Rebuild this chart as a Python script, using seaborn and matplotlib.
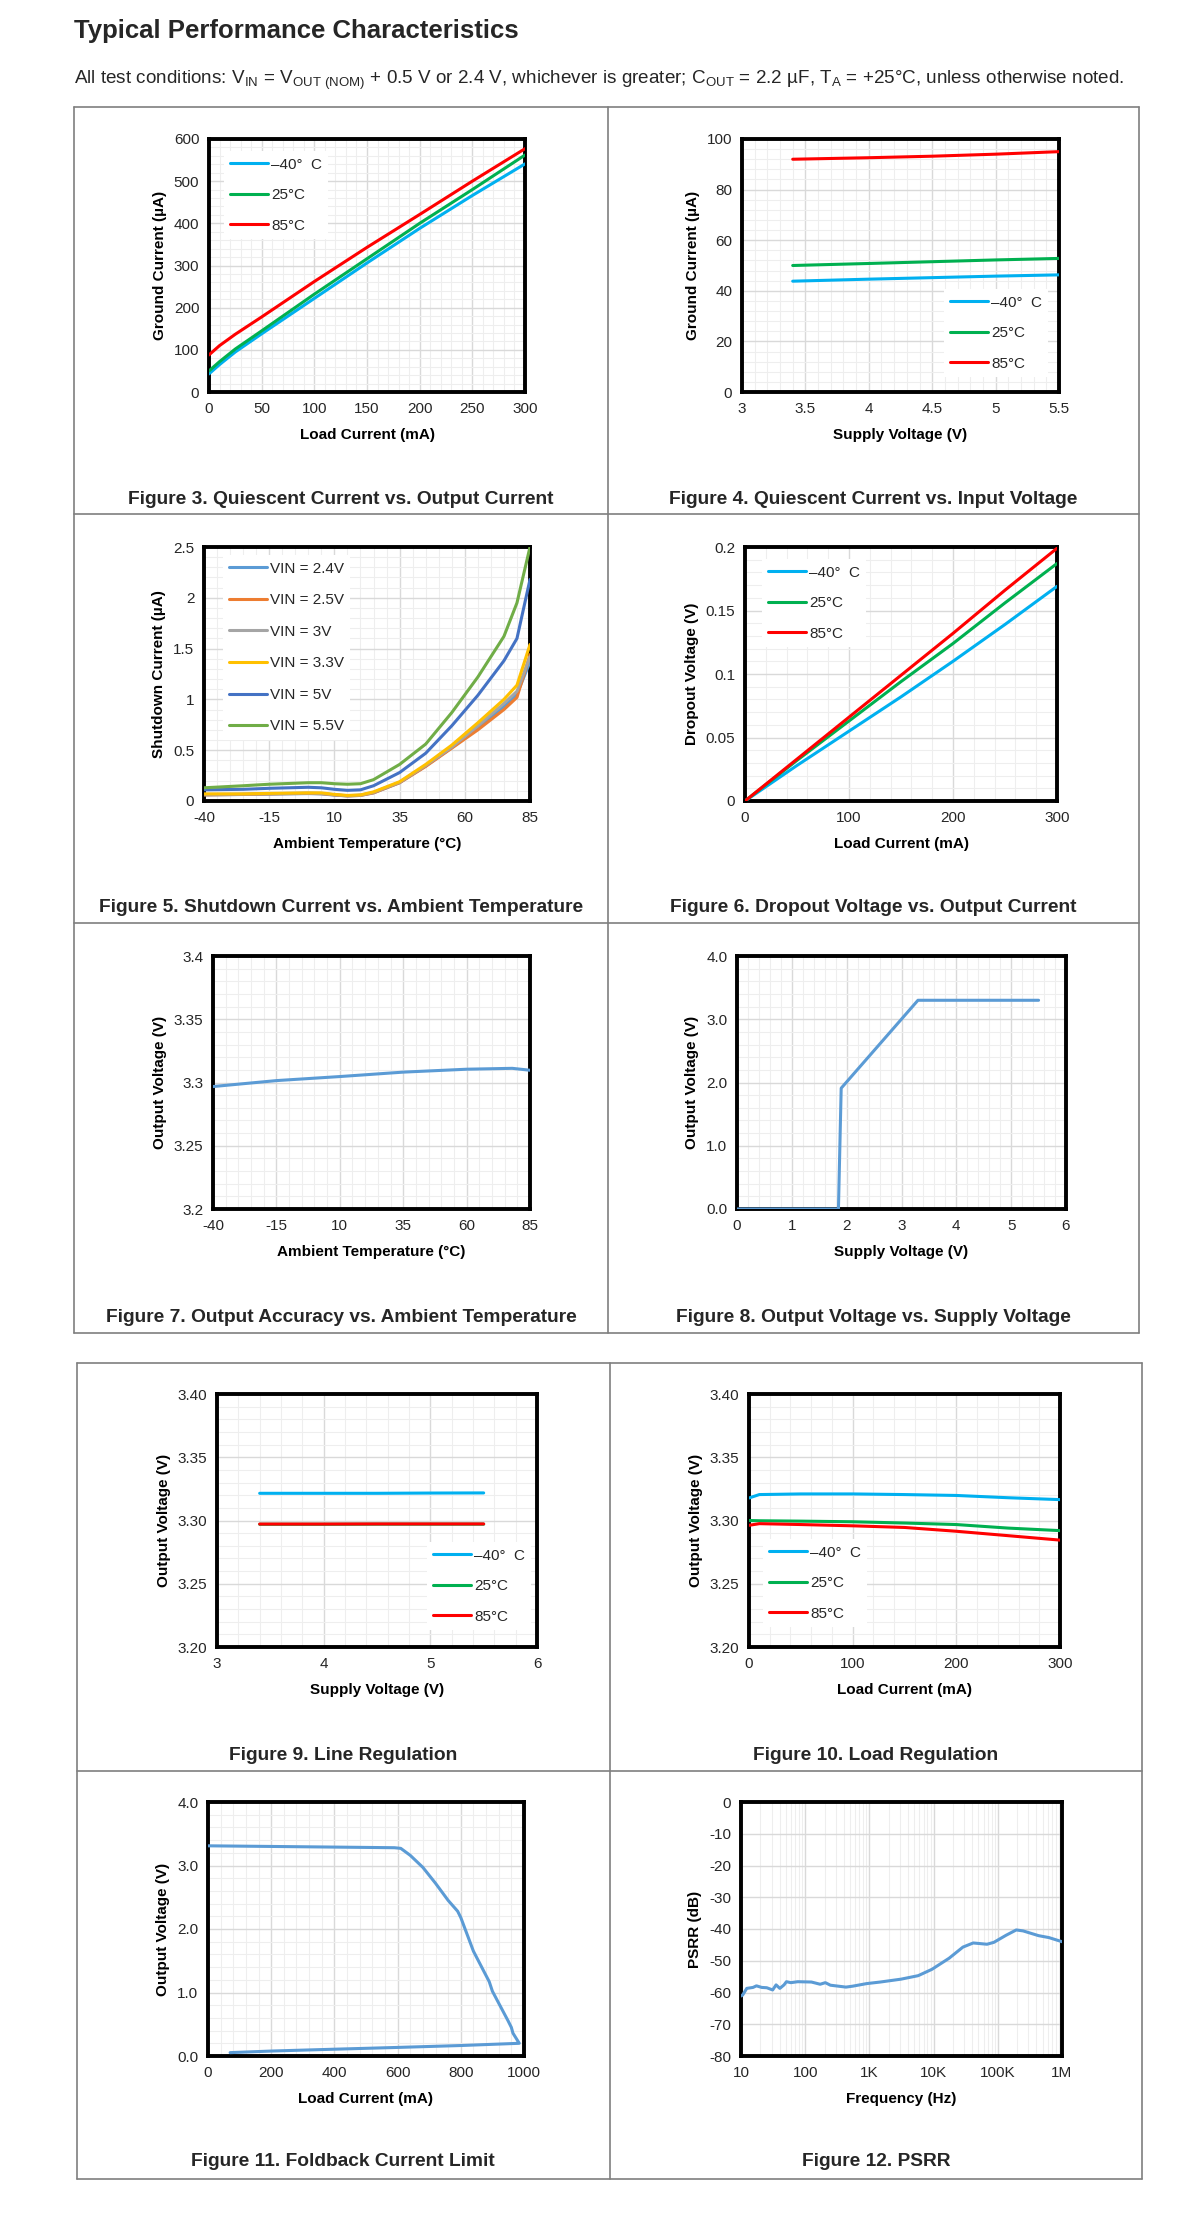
import numpy as np
import pandas as pd
import matplotlib
matplotlib.use("Agg")
import matplotlib.pyplot as plt
import matplotlib.ticker as mt
from matplotlib.lines import Line2D
import seaborn as sns

sns.set_theme(style="white")
plt.rcParams['font.family'] = ['Liberation Sans', 'DejaVu Sans']
plt.rcParams['mathtext.fontset'] = 'custom'
plt.rcParams['mathtext.rm'] = 'Liberation Sans'

# ---- data ----
temp_labels = ['–40°  C', '25°C', '85°C']
temp_colors = ['#00b0f0', '#00b050', '#ff0000']

# Figure 3: ground current vs load current
f3_load = [0, 10, 25, 50, 100, 150, 200, 250, 300]
f3_cold = [43, 65, 95, 138, 222, 306, 388, 466, 541]
f3_room = [50, 72, 102, 145, 232, 316, 400, 480, 562]
f3_hot = [88, 110, 137, 178, 262, 343, 421, 500, 577]

# Figure 4: ground current vs supply voltage
f4_vin = [3.4, 4.0, 4.5, 5.0, 5.5]
f4_cold = [43.8, 44.6, 45.2, 45.8, 46.3]
f4_room = [50.0, 50.8, 51.5, 52.2, 52.8]
f4_hot = [92.0, 92.6, 93.2, 94.0, 95.0]

# Figure 5: shutdown current vs temperature
f5_temp = [-40, -25, -15, 0, 5, 10, 15, 20, 25, 35, 45, 55, 65, 75, 80, 85]
f5_labels = ['VIN = 2.4V', 'VIN = 2.5V', 'VIN = 3V', 'VIN = 3.3V', 'VIN = 5V', 'VIN = 5.5V']
f5_colors = ['#5b9bd5', '#ed7d31', '#a5a5a5', '#ffc000', '#4472c4', '#70ad47']
f5_v24 = [0.06, 0.064, 0.068, 0.073, 0.07, 0.058, 0.05, 0.055, 0.08, 0.18, 0.345, 0.525, 0.72, 0.93, 1.05, 1.37]
f5_v25 = [0.06, 0.065, 0.07, 0.075, 0.072, 0.06, 0.05, 0.055, 0.08, 0.18, 0.34, 0.52, 0.70, 0.90, 1.02, 1.44]
f5_v30 = [0.065, 0.068, 0.072, 0.078, 0.075, 0.062, 0.052, 0.058, 0.085, 0.185, 0.35, 0.53, 0.74, 0.96, 1.08, 1.42]
f5_v33 = [0.07, 0.07, 0.075, 0.08, 0.08, 0.065, 0.055, 0.06, 0.09, 0.19, 0.36, 0.55, 0.77, 1.0, 1.14, 1.54]
f5_v50 = [0.11, 0.115, 0.125, 0.135, 0.13, 0.115, 0.105, 0.11, 0.15, 0.28, 0.47, 0.74, 1.04, 1.38, 1.6, 2.18]
f5_v55 = [0.13, 0.15, 0.165, 0.18, 0.18, 0.17, 0.165, 0.17, 0.21, 0.36, 0.56, 0.87, 1.22, 1.62, 1.95, 2.5]

# Figure 6: dropout voltage vs load current
f6_load = [0, 50, 100, 150, 200, 250, 300]
f6_cold = [0, 0.028, 0.055, 0.082, 0.11, 0.139, 0.169]
f6_room = [0, 0.032, 0.063, 0.094, 0.124, 0.156, 0.187]
f6_hot = [0, 0.033, 0.066, 0.099, 0.132, 0.166, 0.199]

# Figure 7: output voltage vs temperature
f7_temp = [-40, -15, 10, 35, 60, 78, 85]
f7_vout = [3.2968, 3.3015, 3.3047, 3.3082, 3.3105, 3.3112, 3.3097]

# Figure 8: output voltage vs supply voltage
f8_vin = [0, 1.85, 1.9, 3.3, 5.5]
f8_vout = [0, 0, 1.91, 3.3, 3.3]

# Figure 9: line regulation
f9_vin = [3.4, 4.0, 4.5, 5.0, 5.5]
f9_cold = [3.3215, 3.3215, 3.3215, 3.3217, 3.3218]
f9_room = [3.2970, 3.2970, 3.2971, 3.2971, 3.2971]
f9_hot = [3.2972, 3.2972, 3.2973, 3.2973, 3.2973]

# Figure 10: load regulation
f10_load = [0, 10, 50, 100, 150, 200, 250, 300]
f10_cold = [3.3178, 3.3205, 3.3210, 3.3210, 3.3205, 3.3198, 3.3180, 3.3165]
f10_room = [3.3000, 3.2998, 3.2995, 3.2990, 3.2980, 3.2968, 3.2940, 3.2920]
f10_hot = [3.2962, 3.2975, 3.2968, 3.2958, 3.2945, 3.2915, 3.2880, 3.2845]

# Figure 11: foldback current limit (trace goes out and back)
f11_load = [0, 200, 400, 590, 610, 640, 680, 720, 760, 790, 800, 840, 890, 900, 950,
            960, 965, 980, 985, 800, 600, 400, 200, 70]
f11_vout = [3.31, 3.30, 3.29, 3.28, 3.27, 3.16, 2.97, 2.72, 2.45, 2.28, 2.18, 1.65, 1.17, 1.02, 0.55,
            0.45, 0.36, 0.24, 0.20, 0.165, 0.135, 0.107, 0.078, 0.053]

# Figure 12: PSRR
f12_freq = [10, 10.6, 12.3, 15.4, 17.4, 21, 25.2, 31.1, 35.2, 40.3, 46.8, 51, 59.8, 76.6, 125, 171,
            206, 247, 431, 552, 904, 1479, 3104, 5750, 9420, 17460, 28620, 41400, 67900, 86900,
            133800, 193700, 247900, 432000, 625000, 1000000]
f12_psrr = [-61.1, -60.8, -58.7, -58.4, -57.9, -58.4, -58.5, -59.2, -57.6, -58.7, -57.6, -56.6, -56.9,
            -56.6, -56.7, -57.4, -56.9, -57.7, -58.3, -58.0, -57.2, -56.7, -55.8, -54.7, -52.7, -49.2,
            -45.7, -44.4, -44.8, -44.2, -42.0, -40.3, -40.6, -42.1, -42.7, -44.0]
f12_ticks = [10, 100, 1e3, 1e4, 1e5, 1e6]
f12_ticklabels = ['10', '100', '1K', '10K', '100K', '1M']

BLUE = '#5b9bd5'

# ---- layout ----
W, H, DPI = 1200, 2215, 100
fig = plt.figure(figsize=(W / DPI, H / DPI), dpi=DPI)

TICK_FS = 11
LAB_FS = 11
CAP_FS = 13.8
LW = 2.2
FPX = TICK_FS * DPI / 72


def make_ax(box):
    l, t, r, b = box
    return fig.add_axes([l / W, 1 - b / H, (r - l) / W, (b - t) / H])


def fmt_labels(vals, nd):
    return [f'{v:.{nd}f}' if nd is not None else f'{v:g}' for v in vals]


def style(ax, xlim, xticks, xlabels, xminor, ylim, yticks, ylabels, yminor, xlabel, ylabel, logx=False):
    if logx:
        ax.set_xscale('log')
        ax.xaxis.set_minor_locator(mt.LogLocator(base=10, subs=range(2, 10)))
        ax.xaxis.set_minor_formatter(mt.NullFormatter())
    else:
        ax.xaxis.set_minor_locator(mt.MultipleLocator(xminor))
    ax.set_xticks(xticks, xlabels)
    ax.set_yticks(yticks, ylabels)
    if yminor:
        ax.yaxis.set_minor_locator(mt.MultipleLocator(yminor))
    ax.set_xlim(*xlim)
    ax.set_ylim(*ylim)
    ax.grid(which='major', color='#d9d9d9', lw=1.0)
    ax.grid(which='minor', color='#eeeeee', lw=0.8)
    ax.set_axisbelow(True)
    ax.tick_params(which='both', length=0, labelsize=TICK_FS, pad=7, colors='#262626')
    for s in ax.spines.values():
        s.set_color('black')
        s.set_linewidth(2.8)
    ax.set_xlabel(xlabel, fontsize=LAB_FS, fontweight='bold', labelpad=9, color='black')
    ax.set_ylabel(ylabel, fontsize=LAB_FS, fontweight='bold', labelpad=5, color='black')


def line(ax, x, y, color, label=None):
    sns.lineplot(x=x, y=y, ax=ax, color=color, lw=LW, label=label, estimator=None, sort=False, zorder=3)


def legend(ax, box, hx, hy, spacing=1.08):
    l, t, r, b = box
    ax_x = (hx - 0.4 * FPX - l) / (r - l)
    ax_y = (b - (hy - 0.55 * FPX - 0.4 * FPX)) / (b - t)
    leg = ax.legend(loc='upper left', bbox_to_anchor=(ax_x, ax_y), borderaxespad=0, borderpad=0.4,
                    frameon=True, fancybox=False, framealpha=1, facecolor='white', edgecolor='none',
                    fontsize=TICK_FS, handlelength=2.5, handletextpad=0.2, labelspacing=spacing)
    leg.set_zorder(5)


def caption(x, y, text):
    fig.text(x / W, 1 - y / H, text, fontsize=CAP_FS, fontweight='bold', ha='center', va='center')


def seg(x0, y0, x1, y1):
    fig.add_artist(Line2D([x0 / W, x1 / W], [1 - y0 / H, 1 - y1 / H], transform=fig.transFigure,
                          color='#7f7f7f', lw=1.2))


def frame(l, t, r, b):
    seg(l, t, r, t)
    seg(l, b, r, b)
    seg(l, t, l, b)
    seg(r, t, r, b)


# page text
fig.text(74 / W, 1 - 31 / H, 'Typical Performance Characteristics', fontsize=18.5, fontweight='bold',
         va='center', ha='left')
fig.text(74 / W, 1 - 80 / H,
         r'All test conditions: V$_{\mathregular{IN}}$ = V$_{\mathregular{OUT\ (NOM)}}$ + 0.5 V or 2.4 V, '
         r'whichever is greater; C$_{\mathregular{OUT}}$ = 2.2 µF, T$_{\mathregular{A}}$ = +25°C, '
         'unless otherwise noted.', fontsize=13.6, va='center', ha='left')

# table frames
frame(74, 107, 1139, 1333)
seg(608, 107, 608, 1333)
seg(74, 514, 1139, 514)
seg(74, 923, 1139, 923)
frame(77, 1363, 1142, 2179)
seg(610, 1363, 610, 2179)
seg(77, 1771, 1142, 1771)

temp_ticks = [-40, -15, 10, 35, 60, 85]

# Figure 3
b3 = (209, 139, 525, 392)
ax = make_ax(b3)
for ys, c, lab in zip([f3_cold, f3_room, f3_hot], temp_colors, temp_labels):
    line(ax, f3_load, ys, c, lab)
t = [0, 50, 100, 150, 200, 250, 300]
yt = [0, 100, 200, 300, 400, 500, 600]
style(ax, (0, 300), t, fmt_labels(t, None), 10, (0, 600), yt, fmt_labels(yt, None), 20,
      'Load Current (mA)', 'Ground Current (µA)')
legend(ax, b3, 230, 166)
caption(341, 500, 'Figure 3. Quiescent Current vs. Output Current')

# Figure 4
b4 = (742, 139, 1059, 392)
ax = make_ax(b4)
for ys, c, lab in zip([f4_cold, f4_room, f4_hot], temp_colors, temp_labels):
    line(ax, f4_vin, ys, c, lab)
t = [3, 3.5, 4, 4.5, 5, 5.5]
yt = [0, 20, 40, 60, 80, 100]
style(ax, (3, 5.5), t, fmt_labels(t, None), 0.1, (0, 100), yt, fmt_labels(yt, None), 4,
      'Supply Voltage (V)', 'Ground Current (µA)')
legend(ax, b4, 950, 304)
caption(873, 500, 'Figure 4. Quiescent Current vs. Input Voltage')

# Figure 5
b5 = (204, 547, 530, 801)
ax = make_ax(b5)
for ys, c, lab in zip([f5_v24, f5_v25, f5_v30, f5_v33, f5_v50, f5_v55], f5_colors, f5_labels):
    line(ax, f5_temp, ys, c, lab)
yt = [0, 0.5, 1, 1.5, 2, 2.5]
style(ax, (-40, 85), temp_ticks, fmt_labels(temp_ticks, None), 5, (0, 2.5), yt, fmt_labels(yt, None), 0.1,
      'Ambient Temperature (°C)', 'Shutdown Current (µA)')
legend(ax, b5, 229, 570, spacing=1.15)
caption(341, 908, 'Figure 5. Shutdown Current vs. Ambient Temperature')

# Figure 6
b6 = (745, 547, 1057, 801)
ax = make_ax(b6)
for ys, c, lab in zip([f6_cold, f6_room, f6_hot], temp_colors, temp_labels):
    line(ax, f6_load, ys, c, lab)
t = [0, 100, 200, 300]
yt = [0, 0.05, 0.1, 0.15, 0.2]
style(ax, (0, 300), t, fmt_labels(t, None), 20, (0, 0.2), yt, fmt_labels(yt, None), 0.01,
      'Load Current (mA)', 'Dropout Voltage (V)')
legend(ax, b6, 768, 574)
caption(873, 908, 'Figure 6. Dropout Voltage vs. Output Current')

# Figure 7
b7 = (213, 956, 530, 1209)
ax = make_ax(b7)
line(ax, f7_temp, f7_vout, BLUE)
yt = [3.2, 3.25, 3.3, 3.35, 3.4]
style(ax, (-40, 85), temp_ticks, fmt_labels(temp_ticks, None), 5, (3.2, 3.4), yt, fmt_labels(yt, None), 0.01,
      'Ambient Temperature (°C)', 'Output Voltage (V)')
caption(341, 1317, 'Figure 7. Output Accuracy vs. Ambient Temperature')

# Figure 8
b8 = (737, 956, 1066, 1209)
ax = make_ax(b8)
line(ax, f8_vin, f8_vout, BLUE)
t = [0, 1, 2, 3, 4, 5, 6]
yt = [0, 1, 2, 3, 4]
style(ax, (0, 6), t, fmt_labels(t, None), 0.2, (0, 4), yt, fmt_labels(yt, 1), 0.2,
      'Supply Voltage (V)', 'Output Voltage (V)')
caption(873, 1317, 'Figure 8. Output Voltage vs. Supply Voltage')

# Figure 9
b9 = (217, 1394, 537, 1647)
ax = make_ax(b9)
for ys, c, lab in zip([f9_cold, f9_room, f9_hot], temp_colors, temp_labels):
    line(ax, f9_vin, ys, c, lab)
t = [3, 4, 5, 6]
yt = [3.2, 3.25, 3.3, 3.35, 3.4]
style(ax, (3, 6), t, fmt_labels(t, None), 0.2, (3.2, 3.4), yt, fmt_labels(yt, 2), 0.01,
      'Supply Voltage (V)', 'Output Voltage (V)')
legend(ax, b9, 433, 1557)
caption(343, 1755, 'Figure 9. Line Regulation')

# Figure 10
b10 = (749, 1394, 1060, 1647)
ax = make_ax(b10)
for ys, c, lab in zip([f10_cold, f10_room, f10_hot], temp_colors, temp_labels):
    line(ax, f10_load, ys, c, lab)
t = [0, 100, 200, 300]
style(ax, (0, 300), t, fmt_labels(t, None), 20, (3.2, 3.4), yt, fmt_labels(yt, 2), 0.01,
      'Load Current (mA)', 'Output Voltage (V)')
legend(ax, b10, 769, 1554)
caption(876, 1755, 'Figure 10. Load Regulation')

# Figure 11
b11 = (208, 1802, 524, 2056)
ax = make_ax(b11)
line(ax, f11_load, f11_vout, BLUE)
t = [0, 200, 400, 600, 800, 1000]
yt = [0, 1, 2, 3, 4]
style(ax, (0, 1000), t, fmt_labels(t, None), 40, (0, 4), yt, fmt_labels(yt, 1), 0.2,
      'Load Current (mA)', 'Output Voltage (V)')
caption(343, 2162, 'Figure 11. Foldback Current Limit')

# Figure 12
b12 = (741, 1802, 1062, 2056)
ax = make_ax(b12)
line(ax, f12_freq, f12_psrr, BLUE)
yt = [0, -10, -20, -30, -40, -50, -60, -70, -80]
style(ax, (10, 1e6), f12_ticks, f12_ticklabels, None, (-80, 0), yt, [str(v) for v in yt], None,
      'Frequency (Hz)', 'PSRR (dB)', logx=True)
caption(876, 2162, 'Figure 12. PSRR')

fig.savefig('out.png', dpi=DPI, facecolor='white')
